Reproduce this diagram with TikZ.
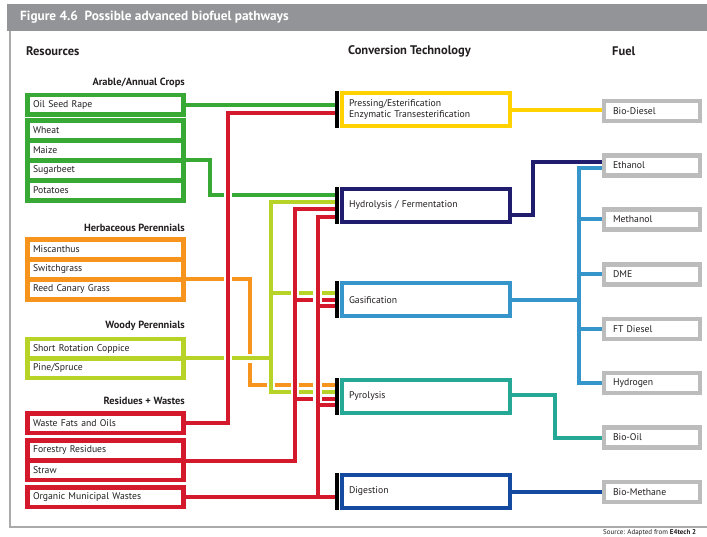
\documentclass[tikz,border=0pt]{standalone}
\usepackage{fontspec}
\setmainfont{PT Sans}
\usetikzlibrary{calc}
\pgfdeclarelayer{back}
\pgfsetlayers{back,main}
\definecolor{cgreen}{RGB}{57,169,53}
\definecolor{corange}{RGB}{247,148,29}
\definecolor{clime}{RGB}{183,211,40}
\definecolor{cred}{RGB}{213,25,45}
\definecolor{cyellow}{RGB}{255,210,0}
\definecolor{cnavy}{RGB}{32,28,110}
\definecolor{cblue}{RGB}{54,150,204}
\definecolor{cteal}{RGB}{38,168,150}
\definecolor{cdblue}{RGB}{20,75,160}
\definecolor{cgray}{RGB}{188,188,188}
\definecolor{ctitle}{RGB}{146,148,151}
\definecolor{cframe}{RGB}{170,170,170}
\definecolor{ctext}{RGB}{35,31,32}
\begin{document}
\begin{tikzpicture}[x=1pt,y=-1pt,
  item/.style={draw=#1, fill=white, line width=4.5pt, rectangle, outer sep=0pt,
    inner xsep=5.5pt, inner ysep=0pt, text width=145pt, align=left,
    minimum height=19.5pt, font=\fontsize{9.7}{11}\selectfont, text=ctext},
  tech/.style={draw=#1, fill=white, line width=4pt, rectangle, outer sep=0pt,
    inner xsep=7pt, inner ysep=0pt, text width=154pt, align=left,
    minimum height=33pt, font=\fontsize{9.7}{11}\selectfont, text=ctext},
  fuel/.style={draw=cgray, fill=white, line width=4.5pt, rectangle, outer sep=0pt,
    inner xsep=9pt, inner ysep=0pt, text width=78pt, align=left,
    minimum height=20pt, font=\fontsize{9.7}{11}\selectfont, text=ctext},
  hdr/.style={font=\bfseries\fontsize{12.5}{14}\selectfont, text=ctext, inner sep=0pt},
  grp/.style={font=\bfseries\fontsize{10.4}{12}\selectfont, text=ctext, inner sep=0pt},
  conn/.style={line width=4pt},
  halo/.style={preaction={draw=white, line width=8.5pt}},
  bar/.style={line width=4pt, draw=black}
]
\useasboundingbox (0,0) rectangle (707,537);

% title bar and frame
\fill[ctitle] (7,4) rectangle (707,31);
\node[anchor=west, text=white, font=\bfseries\fontsize{13.3}{15}\selectfont, inner sep=0pt] (title) at (20,17.5)
  {Figure 4.6\ \ Possible advanced biofuel pathways};
\draw[cframe, line width=1.3pt] (10,31) -- (10,527) -- (707,527);
\node[anchor=west, font=\fontsize{7}{8}\selectfont, text=ctext, inner sep=0pt] (srcnote) at (603,533)
  {Source: Adapted from \textbf{E4tech 2}};

% headers
\node[hdr, anchor=west] (hres) at (26,51) {Resources};
\node[hdr, anchor=west] (hconv) at (348,51) {Conversion Technology};
\node[hdr, anchor=west] (hfuel) at (612,51) {Fuel};

% group labels
\node[grp, anchor=east] (garable) at (185,83) {Arable/Annual Crops};
\node[grp, anchor=east] (gherb) at (185,228) {Herbaceous Perennials};
\node[grp, anchor=east] (gwoody) at (185,326) {Woody Perennials};
\node[grp, anchor=east] (gres) at (185,401) {Residues + Wastes};

% resources
\node[item=cgreen] (osr) at (105.5,104.75) {Oil Seed Rape};
\node[item=cgreen, minimum height=20pt] (wheat) at (105.5,130.5) {Wheat};
\node[item=cgreen, minimum height=20pt] (maize) at (105.5,150.5) {Maize};
\node[item=cgreen, minimum height=20pt] (sugar) at (105.5,170.5) {Sugarbeet};
\node[item=cgreen, minimum height=20pt] (potato) at (105.5,190.5) {Potatoes};

\node[item=corange, minimum height=20pt] (misc) at (105.5,249.5) {Miscanthus};
\node[item=corange, minimum height=20pt] (switch) at (105.5,269.5) {Switchgrass};
\node[item=corange, minimum height=20pt] (reed) at (105.5,289.5) {Reed Canary Grass};

\node[item=clime] (coppice) at (105.5,348.75) {Short Rotation Coppice};
\node[item=clime] (pine) at (105.5,368.25) {Pine/Spruce};

\node[item=cred] (wfo) at (105.5,423.25) {Waste Fats and Oils};
\node[item=cred, minimum height=20pt] (forest) at (105.5,450.5) {Forestry Residues};
\node[item=cred] (straw) at (105.5,470.25) {Straw};
\node[item=cred] (omw) at (105.5,497.25) {Organic Municipal Wastes};

% conversion technologies
\node[tech=cyellow] (press) at (426,110) {Pressing/Esterification\\Enzymatic Transesterification};
\node[tech=cnavy] (hydro) at (426,205.5) {Hydrolysis / Fermentation};
\node[tech=cblue] (gasif) at (426,300) {Gasification};
\node[tech=cteal] (pyro) at (426,396.5) {Pyrolysis};
\node[tech=cdblue] (dig) at (426,491.5) {Digestion};

\foreach \n in {press,hydro,gasif,pyro,dig}
  \draw[bar] ($(\n.north west)+(-5.5,-2)$) -- ($(\n.south west)+(-5.5,2)$);

% fuels
\node[fuel] (biod) at (652,111) {Bio-Diesel};
\node[fuel] (ethanol) at (652,165.5) {Ethanol};
\node[fuel] (methanol) at (652,219.5) {Methanol};
\node[fuel] (dme) at (652,274.5) {DME};
\node[fuel] (ftd) at (652,329) {FT Diesel};
\node[fuel] (hydrogen) at (652,383) {Hydrogen};
\node[fuel] (biooil) at (652,437.5) {Bio-Oil};
\node[fuel] (biometh) at (652,492) {Bio-Methane};

% routing coordinates
\coordinate (barx) at (336.5,0);
\coordinate (xG) at (209.5,0);
\coordinate (xR1) at (228,0);
\coordinate (xO) at (250,0);
\coordinate (xGY) at (271,0);
\coordinate (xR2) at (295,0);
\coordinate (xR3) at (317.5,0);
\coordinate (busx) at (578.5,0);

\coordinate (p2) at ($(press.west)+(-5.5,3)$);
\coordinate (h1) at ($(hydro.west)+(-5.5,-10.5)$);
\coordinate (h2) at ($(hydro.west)+(-5.5,-3)$);
\coordinate (h3) at ($(hydro.west)+(-5.5,3.5)$);
\coordinate (h4) at ($(hydro.west)+(-5.5,11.5)$);
\coordinate (g1) at ($(gasif.west)+(-5.5,-7)$);
\coordinate (g2) at ($(gasif.west)+(-5.5,0)$);
\coordinate (g3) at ($(gasif.west)+(-5.5,6.5)$);
\coordinate (y1) at ($(pyro.west)+(-5.5,-11.5)$);
\coordinate (y2) at ($(pyro.west)+(-5.5,-4.5)$);
\coordinate (y3) at ($(pyro.west)+(-5.5,2.5)$);
\coordinate (y4) at ($(pyro.west)+(-5.5,8.5)$);
\coordinate (e2) at ($(ethanol.west)+(0,2.5)$);

\begin{pgfonlayer}{back}
% green
\draw[conn, cgreen] (osr.east) -- (osr.east -| barx);
\draw[conn, cgreen] (maize.south east) -- (maize.south east -| xG) |- (h1);
% orange
\draw[conn, corange] (switch.south east) -- (switch.south east -| xO) |- (y1);
% lime
\draw[conn, clime, halo] (coppice.south east) -- (coppice.south east -| xGY)
  (h2) -| (xGY |- y2) -- (y2)
  (g1) -- (g1 -| xGY);
% red: forestry / straw
\draw[conn, cred, halo] (forest.south east) -- (forest.south east -| xR2) |- (h3)
  (g2) -- (g2 -| xR2)
  (y3) -- (y3 -| xR2);
% red: organic municipal wastes
\draw[conn, cred, halo] (omw.east) -- (omw.east -| barx)
  (omw.east -| xR3) |- (h4)
  (g3) -- (g3 -| xR3)
  (y4) -- (y4 -| xR3);
% red: waste fats and oils
\draw[conn, cred, halo] (wfo.east) -- (wfo.east -| xR1) |- (p2);

% right side
\draw[conn, cyellow] (press.east) -- (press.east -| biod.west);
\draw[conn, cnavy] ($(hydro.east)+(0,9.5)$) -- ++(23,0) |- ($(ethanol.west)+(0,-3.5)$);
\draw[conn, cblue] (e2) -- (e2 -| busx) -- (hydrogen.west -| busx) -- (hydrogen.west)
  (methanol.west -| busx) -- (methanol.west)
  (dme.west -| busx) -- (dme.west)
  (ftd.west -| busx) -- (ftd.west)
  (gasif.east) -- (gasif.east -| busx);
\draw[conn, cteal] ($(pyro.east)+(0,-1.5)$) -- ++(45,0) |- (biooil.west);
\draw[conn, cdblue] (dig.east) -- (dig.east -| biometh.west);
\end{pgfonlayer}
\end{tikzpicture}
\end{document}
